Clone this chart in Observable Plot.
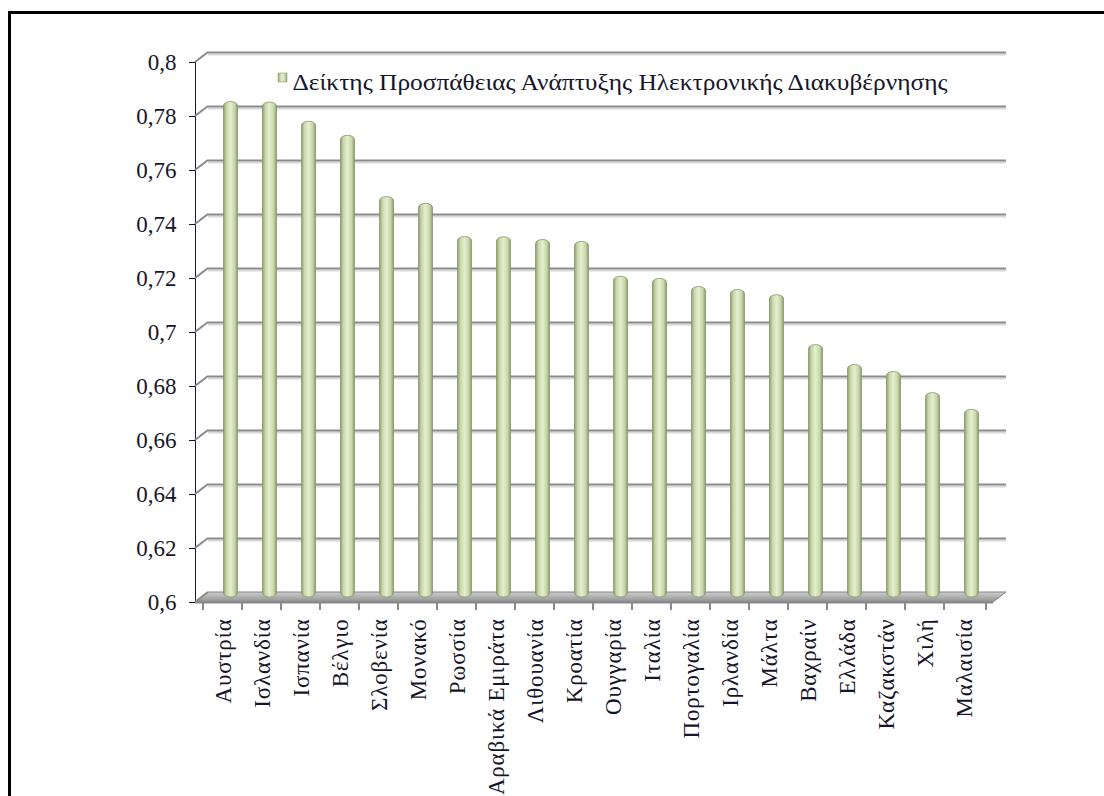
<!DOCTYPE html>
<html>
<head>
<meta charset="utf-8">
<script src="https://cdn.jsdelivr.net/npm/d3@7"></script>
<script src="https://cdn.jsdelivr.net/npm/@observablehq/plot@0.6"></script>
<style>
  html, body { margin: 0; padding: 0; background: #fff; overflow: hidden; width: 1104px; height: 796px; }
  #frame { position: absolute; left: 8px; top: 11px; width: 1200px; height: 900px; border-left: 3px solid #000; border-top: 3px solid #000; }
  #chart { position: absolute; left: 0; top: 0; }
  #chart text { font-family: 'Liberation Serif', 'DejaVu Serif', serif; }
</style>
</head>
<body>
<div id="frame"></div>
<svg width="0" height="0" style="position:absolute">
  <defs>
    <linearGradient id="cyl" x1="0" x2="1" y1="0" y2="0">
      <stop offset="0" stop-color="#8fa072"/>
      <stop offset="0.22" stop-color="#cad9ac"/>
      <stop offset="0.5" stop-color="#e3eed0"/>
      <stop offset="0.8" stop-color="#c6d6a8"/>
      <stop offset="1" stop-color="#8a9c70"/>
    </linearGradient>
    <linearGradient id="floor" x1="0" x2="0" y1="0" y2="1">
      <stop offset="0" stop-color="#cfcfcf"/>
      <stop offset="1" stop-color="#8f8f8f"/>
    </linearGradient>
  </defs>
</svg>
<div id="chart"></div>
<script>
const categories = ["Αυστρία","Ισλανδία","Ισπανία","Βέλγιο","Σλοβενία","Μονακό","Ρωσσία","Αραβικά Εμιράτα","Λιθουανία","Κροατία","Ουγγαρία","Ιταλία","Πορτογαλία","Ιρλανδία","Μάλτα","Βαχραίν","Ελλάδα","Καζακστάν","Χιλή","Μαλαισία"];
const values = [0.7835,0.7833,0.7762,0.7710,0.7483,0.7458,0.7335,0.7334,0.7324,0.7317,0.7188,0.7180,0.7150,0.7139,0.7120,0.6935,0.6861,0.6835,0.6757,0.6695];
const yTicks = [0.6,0.62,0.64,0.66,0.68,0.7,0.72,0.74,0.76,0.78,0.8];
const yTickLabels = ["0,6","0,62","0,64","0,66","0,68","0,7","0,72","0,74","0,76","0,78","0,8"];
const seriesName = "Δείκτης Προσπάθειας Ανάπτυξης Ηλεκτρονικής Διακυβέρνησης";

const data = categories.map((c, i) => ({country: c, value: values[i]}));
const DX = 13, DY = -10; // depth offset of back wall

const decor = (index, scales, vals, dims) => {
  const y = scales.y;
  const x0 = dims.marginLeft, x1 = dims.width - dims.marginRight;
  const yb = y(yTicks[0]);
  const g = d3.create("svg:g");
  g.append("path")
    .attr("d", `M${x0},${yb}L${x1},${yb}L${x1 + DX},${yb + DY}L${x0 + DX},${yb + DY}Z`)
    .attr("fill", "url(#floor)").attr("stroke", "#808080").attr("stroke-width", 1);
  for (const t of yTicks) {
    g.append("line")
      .attr("x1", x0).attr("y1", y(t)).attr("x2", x0 + DX).attr("y2", y(t) + DY)
      .attr("stroke", "#8a8a8a").attr("stroke-width", 2);
  }
  return g.node();
};

const chart = Plot.plot({
  width: 1104,
  height: 796,
  marginLeft: 195,
  marginRight: 111,
  marginTop: 62,
  marginBottom: 194,
  style: {fontFamily: "'Liberation Serif', 'DejaVu Serif', serif", fontSize: "23px", color: "#16162a", background: "transparent"},
  x: {type: "band", domain: categories, padding: 0, tickSize: 0, tickRotate: -90, tickPadding: 16, label: null},
  y: {domain: [0.6, 0.8], ticks: yTicks, tickFormat: d => yTickLabels[yTicks.indexOf(d)], tickSize: 6, tickPadding: 13, label: null, line: true},
  marks: [
    Plot.ruleY(yTicks.slice(1), {dx: DX, dy: DY + 2, stroke: "#d8d8d8", strokeWidth: 2}),
    Plot.ruleY(yTicks.slice(1), {dx: DX, dy: DY, stroke: "#8c8c8c", strokeWidth: 2}),
    decor,
    Plot.barY(data, {x: "country", y1: 0.6, y2: "value", dx: 7, dy: -5, insetLeft: 12.5, insetRight: 12.5, rx: 8, ry: 4, fill: "url(#cyl)", stroke: "#87976b", strokeWidth: 0.8}),
    Plot.ruleY([0.6], {stroke: "#8a8a8a", strokeWidth: 2}),
    Plot.ruleX(categories, {x: d => d, y1: 0.6, y2: 0.597, dx: -21, stroke: "#8a8a8a", strokeWidth: 2}),
    Plot.ruleX(categories.slice(-1), {x: d => d, y1: 0.6, y2: 0.597, dx: 21, stroke: "#8a8a8a", strokeWidth: 2}),
    Plot.dot([seriesName], {frameAnchor: "top-left", dx: 87, dy: 15, symbol: "square", r: 5, fill: "url(#cyl)", stroke: "#87976b", strokeWidth: 0.6}),
    Plot.text([seriesName], {frameAnchor: "top-left", dx: 97, dy: 11, text: d => d, textAnchor: "start", fontSize: 23, fill: "#16162a"})
  ]
});
document.getElementById("chart").appendChild(chart);

// typographic fitting of the legend and x labels to the reference's wide serif text
const sel = d3.select(chart);
sel.selectAll("text").filter(function () { return this.textContent === seriesName; })
  .attr("textLength", 655).attr("lengthAdjust", "spacingAndGlyphs");
sel.selectAll("text").filter(function () { return categories.includes(this.textContent); })
  .attr("letter-spacing", "0.8px");
</script>
</body>
</html>
